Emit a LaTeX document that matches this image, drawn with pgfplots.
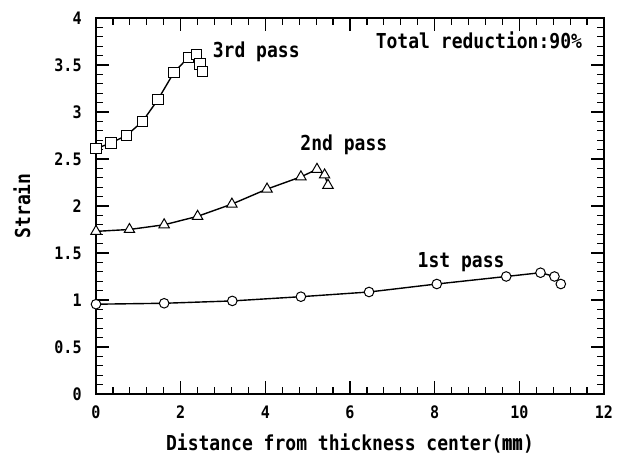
\documentclass[border=0pt]{standalone}
\usepackage{pgfplots}
\pgfplotsset{compat=1.18}
\usetikzlibrary{calc}
\usepackage{fontspec}
\setmainfont{DejaVu Sans Mono}[FakeStretch=0.875]
\newfontfamily\cjk{Noto Sans CJK JP}
\newcommand\lblfont{\bfseries\fontsize{10.3}{12}\selectfont}
\newcommand\tickfont{\bfseries\fontsize{8.6}{10}\selectfont}
\begin{document}
\begin{tikzpicture}[x=1pt,y=1pt]
\begin{axis}[
  name=ax,
  scale only axis,
  width=254pt, height=188pt,
  xmin=0, xmax=12, ymin=0, ymax=4,
  xtick={0,2,...,12},
  ytick={0,0.5,...,4},
  minor x tick num=4,
  minor y tick num=4,
  tick align=inside,
  major tick length=6.3pt,
  minor tick length=3.4pt,
  every tick/.style={black, line width=0.6pt},
  axis line style={line width=0.8pt},
  /pgf/number format/assume math mode=true,
  tick label style={font=\tickfont},
  xticklabel style={anchor=base, inner sep=0pt, yshift=-12.5pt},
  yticklabel style={anchor=east, inner sep=0pt, xshift=-7pt},
  every axis x label/.style={at={(rel axis cs:0.5,0)}, anchor=base, yshift=-28.5pt, font=\lblfont},
  every axis y label/.style={at={(rel axis cs:0,0.5)}, rotate=90, anchor=center, yshift=37pt, font=\lblfont},
  xlabel={Distance from thickness center({\cjk ㎜})},
  ylabel={Strain},
  clip=false,
]
\addplot[black, line width=0.7pt, mark=square*, mark size=2.6pt, mark options={fill=white, line width=0.5pt}]
 coordinates {(0,2.61)(0.35,2.67)(0.72,2.75)(1.10,2.90)(1.46,3.13)(1.84,3.42)(2.18,3.58)(2.38,3.61)(2.46,3.51)(2.51,3.43)};
\addplot[black, line width=0.7pt, mark=triangle*, mark size=3.0pt, mark options={fill=white, line width=0.5pt}]
 coordinates {(0,1.73)(0.79,1.75)(1.61,1.80)(2.40,1.89)(3.21,2.02)(4.04,2.18)(4.84,2.31)(5.22,2.39)(5.40,2.33)(5.48,2.22)};
\addplot[black, line width=0.7pt, mark=*, mark size=2.4pt, mark options={fill=white, line width=0.5pt}]
 coordinates {(0,0.955)(1.61,0.965)(3.22,0.99)(4.84,1.035)(6.45,1.085)(8.05,1.17)(9.69,1.25)(10.5,1.29)(10.83,1.25)(10.98,1.17)};
\node[anchor=west, font=\lblfont, inner sep=0pt] at (axis cs:2.75,3.64) {3rd pass};
\node[anchor=west, font=\lblfont, inner sep=0pt] at (axis cs:4.82,2.65) {2nd pass};
\node[anchor=west, font=\lblfont, inner sep=0pt] at (axis cs:7.59,1.40) {1st pass};
\node[anchor=west, font=\lblfont, inner sep=0pt] at (axis cs:6.6,3.76) {Total reduction:90\%};
\end{axis}
\pgfresetboundingbox
\path[use as bounding box] ($(ax.south west)+(-48pt,-30.5pt)$) rectangle ($(ax.north east)+(9pt,9pt)$);
\end{tikzpicture}
\end{document}
